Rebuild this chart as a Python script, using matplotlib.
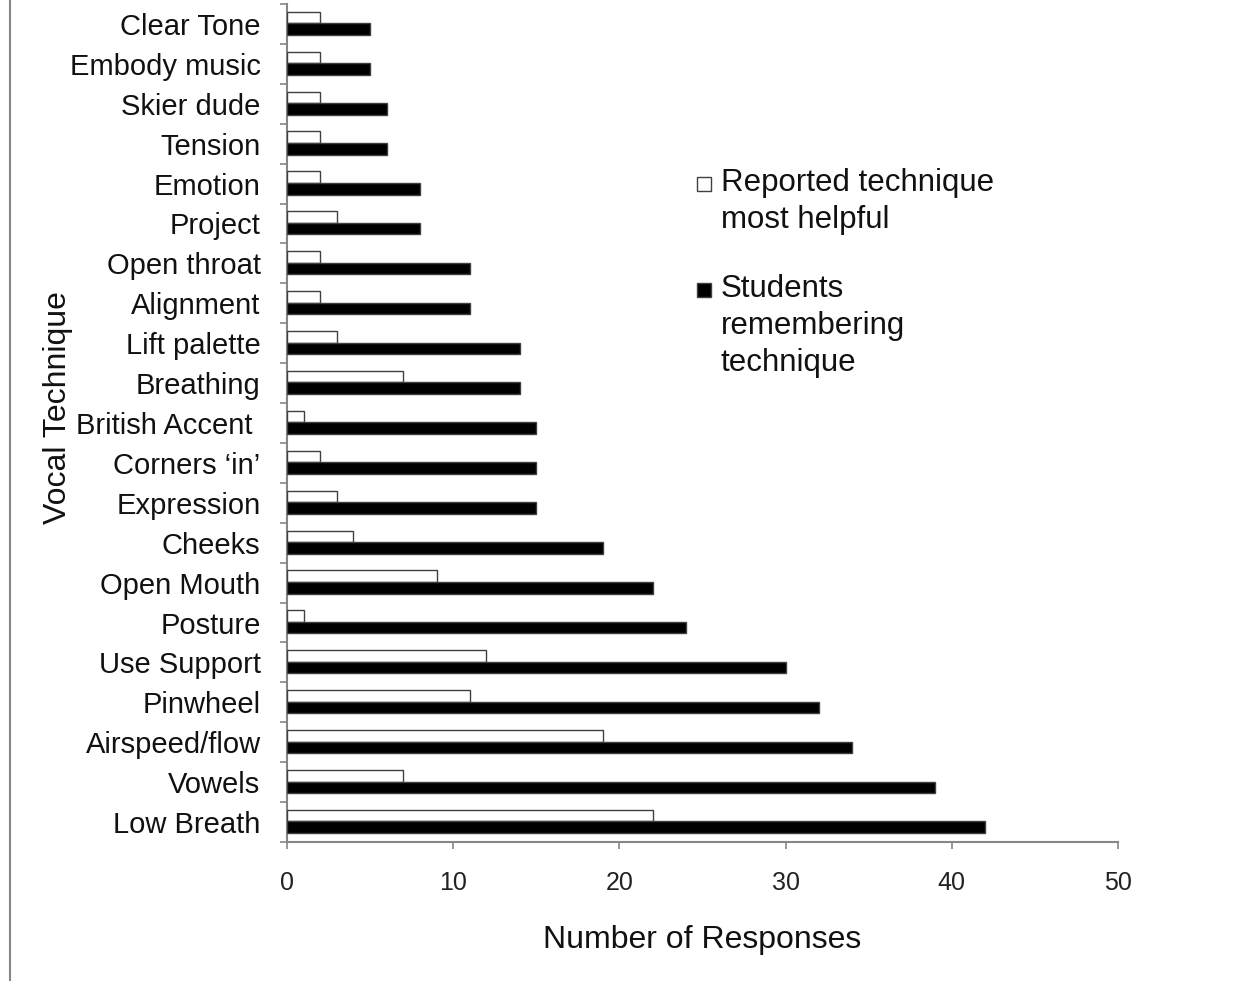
import matplotlib
matplotlib.use("Agg")
import matplotlib.pyplot as plt
from matplotlib.patches import Rectangle
from matplotlib.lines import Line2D
import numpy as np

# ----------------------------------------------------------------------
# datos (de arriba hacia abajo, como en la figura)
# ----------------------------------------------------------------------
tecnicas = ["Clear Tone", "Embody music", "Skier dude", "Tension", "Emotion",
            "Project", "Open throat", "Alignment", "Lift palette", "Breathing",
            "British Accent ", "Corners \u2018in\u2019", "Expression", "Cheeks",
            "Open Mouth", "Posture", "Use Support", "Pinwheel", "Airspeed/flow",
            "Vowels", "Low Breath"]
mas_util = [2, 2, 2, 2, 2, 3, 2, 2, 3, 7, 1, 2, 3, 4, 9, 1, 12, 11, 19, 7, 22]
recuerdan = [5, 5, 6, 6, 8, 8, 11, 11, 14, 14, 15, 15, 15, 19, 22, 24, 30, 32, 34, 39, 42]
xticks = [0, 10, 20, 30, 40, 50]

lbl_blanco = "Reported technique\nmost helpful"
lbl_negro = "Students\nremembering\ntechnique"

plt.rcParams.update({
    "font.family": ["Liberation Sans", "DejaVu Sans"],
})

GRIS = "#868686"
BORDE = "#404040"

fig = plt.figure(figsize=(12.48, 9.81), dpi=100)
ax = fig.add_axes([0.22997, 0.14169, 0.66587, 0.85423])

n = len(tecnicas)
pos = np.arange(n)[::-1]

ax.barh(pos + 0.16, mas_util, height=0.29, color="white", edgecolor=BORDE,
        linewidth=1.0, zorder=3)
ax.barh(pos - 0.13, recuerdan, height=0.29, color="black", edgecolor=BORDE,
        linewidth=1.0, zorder=3)

ax.set_xlim(0, 50)
ax.set_ylim(-0.5, n - 0.5)

# ejes
for s in ["top", "right"]:
    ax.spines[s].set_visible(False)
for s in ["left", "bottom"]:
    ax.spines[s].set_color(GRIS)
    ax.spines[s].set_linewidth(1.5)

ax.set_yticks(pos)
ax.set_yticklabels(tecnicas, fontsize=21, color="#111111")
ax.set_yticks(np.arange(-0.5, n, 1.0), minor=True)
ax.tick_params(axis="y", which="major", length=0, pad=19)
ax.tick_params(axis="y", which="minor", length=5, width=1.2, color=GRIS, direction="out")

ax.set_xticks(xticks)
ax.set_xticklabels([str(v) for v in xticks], fontsize=18, color="#222222")
ax.tick_params(axis="x", which="major", length=5, width=1.2, color=GRIS,
               direction="out", pad=16)

ax.set_ylabel("Vocal Technique", fontsize=23, color="#111111")
ax.yaxis.set_label_coords(-0.257, 0.518)
ax.set_xlabel("Number of Responses", fontsize=23, color="#111111")
ax.xaxis.set_label_coords(0.5, -0.099)

# ----------------------------------------------------------------------
# leyenda manual (cuadro alineado con la primera línea)
# ----------------------------------------------------------------------
W, H = 1248, 981

def cuadro(x_px, y_px, color):
    fig.add_artist(Rectangle((x_px / W, 1 - (y_px + 14) / H), 14 / W, 14 / H,
                             transform=fig.transFigure, facecolor=color,
                             edgecolor=BORDE, linewidth=1.0))

cuadro(697, 177, "white")
fig.text(721 / W, 1 - 168 / H, lbl_blanco, fontsize=22.5, color="#111111",
         ha="left", va="top", linespacing=1.3)
cuadro(697, 283, "black")
fig.text(721 / W, 1 - 274 / H, lbl_negro, fontsize=22.5, color="#111111",
         ha="left", va="top", linespacing=1.3)

# borde gris a la izquierda
fig.add_artist(Line2D([9.5 / W, 9.5 / W], [0, 1], transform=fig.transFigure,
                      color=GRIS, linewidth=1.5))

fig.savefig("out.png", dpi=100, facecolor="white")
